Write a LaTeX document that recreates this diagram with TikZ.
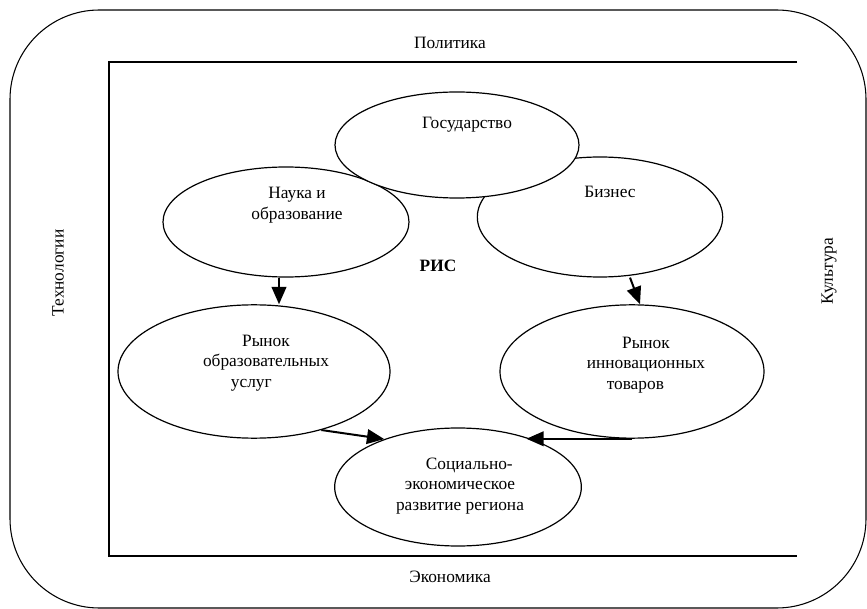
\documentclass[tikz,border=0pt]{standalone}
\usepackage{fontspec}
\setmainfont{Liberation Serif}
\usetikzlibrary{shapes.geometric,arrows.meta}

\begin{document}
\begin{tikzpicture}[x=0.75pt,y=-0.75pt,
  oval/.style={ellipse,draw,fill=white,line width=0.9pt,inner sep=0pt},
  txt/.style={align=center,font=\fontsize{13}{15.5}\selectfont,inner sep=0pt},
  arr/.style={line width=1.5pt,-{Triangle[length=13pt,width=11pt]}}]
\useasboundingbox (0,0) rectangle (867,609);

% frames
\draw [line width=0.8pt, rounded corners=67pt](10,10) rectangle (866,608);
\draw [line width=0.8pt](797,62) -- (109,62) -- (109,556) -- (797,556);

\node (pol) at (450,43) [txt]{Политика};
\node (eco) at (450,577) [txt]{Экономика};
\node (tech) at (58,273) [txt, rotate=90]{Технологии};
\node (kult) at (829,271) [txt, rotate=90]{Культура};

\node (nauka) at (286,222) [oval, minimum width=184.5pt, minimum height=82.5pt]{};
\node (biznes) at (600,217) [oval, minimum width=184pt, minimum height=90pt]{};
\node (gos) at (457,145) [oval, minimum width=183pt, minimum height=79.5pt]{};

\node (rynokobr) at (254,371.5) [oval, minimum width=204pt, minimum height=100pt]{};
\node (rynokinn) at (632,371.5) [oval, minimum width=198pt, minimum height=100pt]{};
\node (soc) at (458,487) [oval, minimum width=185pt, minimum height=88.5pt]{};

\node (gos-t) at (467,125) [txt]{Государство};
\node (nauka-t) at (297,205) [txt]{Наука и\\образование};
\node (biznes-t) at (610,192) [txt]{Бизнес};
\node (rynokobr-t) at (266,363) [txt]{Рынок\\образовательных\\услуг\hspace*{22pt}};
\node (rynokinn-t) at (646,365) [txt]{Рынок\\инновационных\\товаров\hspace*{16pt}};
\node (soc-t) at (460,486) [txt]{\hspace*{14pt}Социально-\\экономическое\\развитие региона};
\node (ris) at (438,266) [txt, font=\fontsize{13}{15.5}\selectfont\bfseries]{РИС};

\draw [arr] ([xshift=-5.25pt]nauka.south) -- ([xshift=18.75pt]rynokobr.north);
\draw [arr] ([xshift=22.5pt]biznes.south) -- ([xshift=6pt]rynokinn.north);
\draw [arr] (rynokobr.-41) -- (soc.147);
\draw [arr] (rynokinn.south) -- (soc.36 |- rynokinn.south);

\end{tikzpicture}
\end{document}
